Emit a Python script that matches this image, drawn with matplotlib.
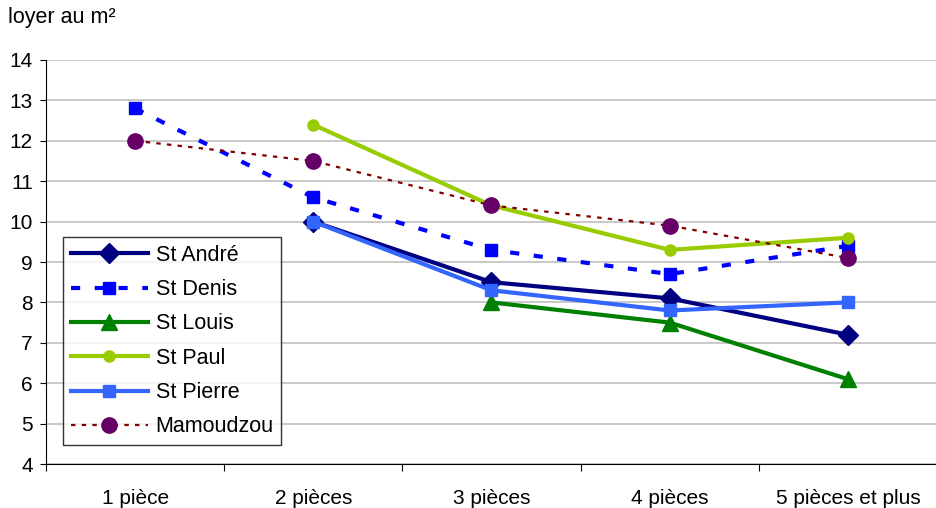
import numpy as np
import matplotlib.pyplot as plt

plt.rcParams['font.family'] = ['Liberation Sans', 'DejaVu Sans']

categories = ['1 pièce', '2 pièces', '3 pièces', '4 pièces', '5 pièces et plus']

st_andre = [np.nan, 10.0, 8.5, 8.1, 7.2]
st_denis = [12.8, 10.6, 9.3, 8.7, 9.4]
st_louis = [np.nan, np.nan, 8.0, 7.5, 6.1]
st_paul = [np.nan, 12.4, 10.4, 9.3, 9.6]
st_pierre = [np.nan, 10.0, 8.3, 7.8, 8.0]
mamoudzou = [12.0, 11.5, 10.4, 9.9, 9.1]

x = np.arange(1, len(categories) + 1)

fig = plt.figure(figsize=(9.37, 5.08), dpi=100)
ax = fig.add_axes([46/937, 44/508, 1 - 46/937, (464-60)/508])

ax.plot(x, st_andre, color='#000080', lw=3, marker='D', ms=10, label='St André', zorder=3)
ax.plot(x, st_denis, color='#0000FF', lw=3, ls=(0, (2.2, 3.5)), marker='s', ms=8.5, label='St Denis', zorder=3)
ax.plot(x, st_louis, color='#008000', lw=3, marker='^', ms=11, label='St Louis', zorder=3)
ax.plot(x, st_paul, color='#99CC00', lw=3, marker='o', ms=8, label='St Paul', zorder=4)
ax.plot(x, st_pierre, color='#3366FF', lw=3, marker='s', ms=8.5, label='St Pierre', zorder=3)
ax.plot(x, mamoudzou, color='#800000', lw=1.6, ls=(0, (2, 2.8)), marker='o', ms=11,
        mfc='#660066', mec='#660066', label='Mamoudzou', zorder=5)

ax.set_ylim(4, 14)
ax.set_yticks(range(4, 15))
ax.set_xlim(0.5, 0.5 + (937 - 46) / 180.5)

# category labels sit between boundary ticks
ax.set_xticks(np.arange(0.5, 6, 1))
ax.set_xticklabels([])
ax.set_xticks(x, minor=True)
ax.set_xticklabels(categories, minor=True)
ax.tick_params(axis='x', which='minor', length=0, pad=18, labelsize=15)
ax.tick_params(axis='x', which='major', length=5, direction='out')
ax.tick_params(axis='y', length=4.5, direction='out', labelsize=15, pad=5)

ax.grid(axis='y', color='#C0C0C0', lw=1.2)
ax.set_axisbelow(True)
for side in ['top', 'right']:
    ax.spines[side].set_visible(False)
ax.spines['left'].set_color('black')
ax.spines['bottom'].set_color('black')

leg = ax.legend(loc='lower left', bbox_to_anchor=(17/891, 19/404), fontsize=15.5,
                frameon=True, fancybox=False, edgecolor='black', handlelength=3.6,
                borderpad=0.35, labelspacing=0.62, handletextpad=0.35, borderaxespad=0)
leg.get_frame().set_linewidth(1)

fig.text(8/937, 1 - 18/508, 'loyer au m²', fontsize=15.5, va='center')

plt.savefig('out.png', dpi=100)
